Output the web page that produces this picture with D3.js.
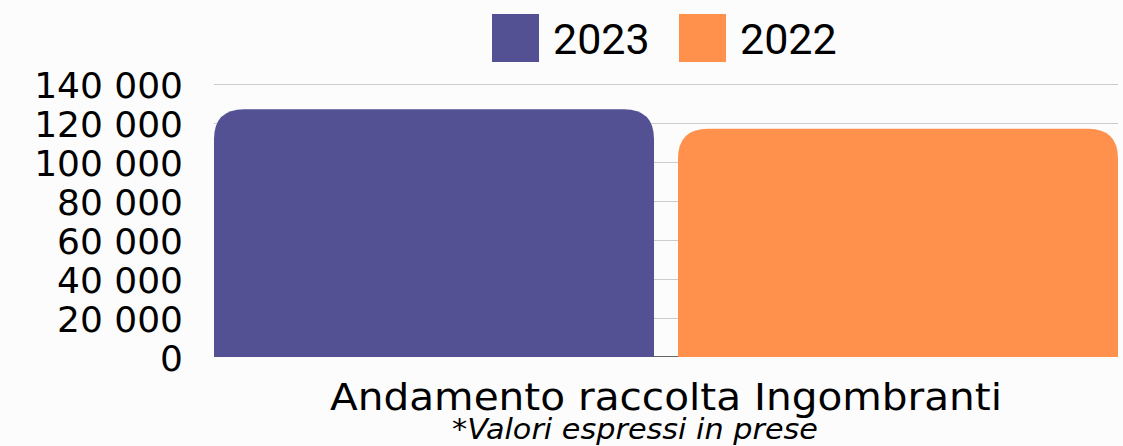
<!DOCTYPE html>
<html><head><meta charset="utf-8">
<script src="https://cdn.jsdelivr.net/npm/d3@7"></script>
<style>html,body{margin:0;padding:0;background:#fcfcfc;}svg{display:block;}</style>
</head><body>
<svg id="c" width="1123" height="446"></svg>
<script>
const categories = ["Andamento raccolta Ingombranti"];
const seriesNames = ["2023", "2022"];
const values2023 = [127000];
const values2022 = [117000];
const yTicks = [0, 20000, 40000, 60000, 80000, 100000, 120000, 140000];
const subtitle = "*Valori espressi in prese";
const colors = ["#535094", "#ff914d"];

(function () {
const svg = d3.select("#c");
const pL = 214, pR = 1118, pT = 84, pB = 357;
const y = d3.scaleLinear().domain([0, 140000]).range([pB, pT]);
const x0 = d3.scaleBand().domain(categories).range([pL, pR]).padding(0);
const x1 = d3.scaleBand().domain(seriesNames).range([0, x0.bandwidth()]).paddingInner(0.0517).paddingOuter(0);
const loc = d3.formatLocale({decimal: ",", thousands: " ", grouping: [3], currency: ["", "€"]});
const fmt = loc.format(",d");

// gridlines
svg.append("g").selectAll("line").data(yTicks.filter(d => d > 0)).join("line")
  .attr("x1", pL).attr("x2", pR)
  .attr("y1", d => Math.round(y(d)) + 0.5).attr("y2", d => Math.round(y(d)) + 0.5)
  .attr("stroke", "#cccccc").attr("stroke-width", 1);

// axis line
svg.append("line").attr("x1", pL).attr("x2", pR).attr("y1", pB - 0.5).attr("y2", pB - 0.5)
  .attr("stroke", "#666").attr("stroke-width", 1);

// tick labels
svg.append("g").selectAll("text").data(yTicks).join("text")
  .attr("x", 183).attr("y", d => y(d) + 13.5)
  .attr("text-anchor", "end")
  .attr("font-family", "'DejaVu Sans', sans-serif").attr("font-size", 36)
  .attr("fill", "#000")
  .text(d => fmt(d));

// bars
const data = seriesNames.map((s, i) => ({s, v: [values2023, values2022][i][0], c: colors[i]}));
function topRounded(x, yt, w, h, r) {
  r = Math.min(r, w / 2, h);
  return `M${x},${yt + h}V${yt + r}Q${x},${yt} ${x + r},${yt}H${x + w - r}Q${x + w},${yt} ${x + w},${yt + r}V${yt + h}Z`;
}
svg.append("g").selectAll("path").data(data).join("path")
  .attr("d", d => {
    const bx = x0(categories[0]) + x1(d.s);
    const yt = y(d.v);
    return topRounded(bx, yt, x1.bandwidth(), pB - yt, 30);
  })
  .attr("fill", d => d.c);

// legend
const leg = svg.append("g");
const legX = [492, 679];
seriesNames.forEach((s, i) => {
  leg.append("rect").attr("x", legX[i]).attr("y", 14).attr("width", 47).attr("height", 48).attr("fill", colors[i]);
  leg.append("text").attr("x", legX[i] + 61).attr("y", 54)
    .attr("font-family", "Roboto, sans-serif").attr("font-size", 43).attr("fill", "#000").text(s);
});

// category label
svg.append("text").attr("x", 666).attr("y", 410)
  .attr("text-anchor", "middle").attr("font-family", "'DejaVu Sans', sans-serif").attr("font-size", 38)
  .attr("textLength", 672).attr("lengthAdjust", "spacingAndGlyphs")
  .attr("fill", "#000").text(categories[0]);
svg.append("text").attr("x", 635).attr("y", 439)
  .attr("text-anchor", "middle").attr("font-family", "'DejaVu Sans', sans-serif").attr("font-style", "italic").attr("font-size", 29)
  .attr("textLength", 366).attr("lengthAdjust", "spacingAndGlyphs")
  .attr("fill", "#000").text(subtitle);
})();
</script>
</body></html>
